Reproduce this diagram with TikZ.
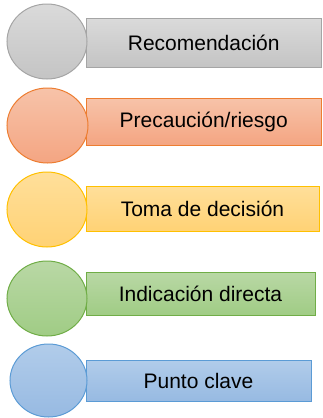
\documentclass[tikz,border=0pt]{standalone}
\usepackage{fontspec}
\setmainfont{Liberation Sans}
\usetikzlibrary{shapes.geometric}
\definecolor{grayB}{HTML}{A5A5A5}
\definecolor{grayT}{HTML}{DADADA}
\definecolor{grayD}{HTML}{C4C4C4}
\definecolor{oraB}{HTML}{ED7D31}
\definecolor{oraT}{HTML}{F7C3A9}
\definecolor{oraD}{HTML}{F4A582}
\definecolor{yelB}{HTML}{FFC000}
\definecolor{yelT}{HTML}{FFDF9A}
\definecolor{yelD}{HTML}{FFD275}
\definecolor{greB}{HTML}{70AD47}
\definecolor{greT}{HTML}{B9D8A5}
\definecolor{greD}{HTML}{A0CC85}
\definecolor{bluB}{HTML}{5B9BD5}
\definecolor{bluT}{HTML}{B1CCEA}
\definecolor{bluD}{HTML}{97BAE2}
\tikzset{
  bar/.style={rectangle, inner sep=0pt, line width=1pt, text=black,
    font=\fontsize{21}{25}\selectfont},
  disc/.style={ellipse, inner sep=0pt, line width=1pt},
  gray/.style={draw=grayB, top color=grayT, bottom color=grayD},
  ora/.style={draw=oraB, top color=oraT, bottom color=oraD},
  yel/.style={draw=yelB, top color=yelT, bottom color=yelD},
  gre/.style={draw=greB, top color=greT, bottom color=greD},
  blu/.style={draw=bluB, top color=bluT, bottom color=bluD},
}
\begin{document}
\begin{tikzpicture}[x=1pt, y=-1pt]
\useasboundingbox (0,0) rectangle (322,418);
\node[bar, gray, minimum width=235.5pt, minimum height=49pt] (r1) at (203.75,42.5) {Recomendación};
\node[disc, gray, minimum width=80pt, minimum height=75pt] (c1) at (47,41.5) {};
\node[bar, ora, minimum width=235.5pt, minimum height=47pt] (r2) at (203.75,121.5) {Precaución/riesgo};
\node[disc, ora, minimum width=81pt, minimum height=75pt] (c2) at (47.5,125.5) {};
\node[bar, yel, minimum width=233pt, minimum height=45pt] (r3) at (202.5,208.5) {Toma de decisión};
\node[disc, yel, minimum width=80pt, minimum height=75pt] (c3) at (47,209.5) {};
\node[bar, gre, minimum width=229pt, minimum height=43pt] (r4) at (200.5,293.5) {Indicación directa};
\node[disc, gre, minimum width=80pt, minimum height=75pt] (c4) at (47,298.5) {};
\node[bar, blu, minimum width=225pt, minimum height=41pt] (r5) at (198.5,380.5) {Punto clave};
\node[disc, blu, minimum width=77pt, minimum height=73pt] (c5) at (48.5,380.5) {};
\end{tikzpicture}
\end{document}
